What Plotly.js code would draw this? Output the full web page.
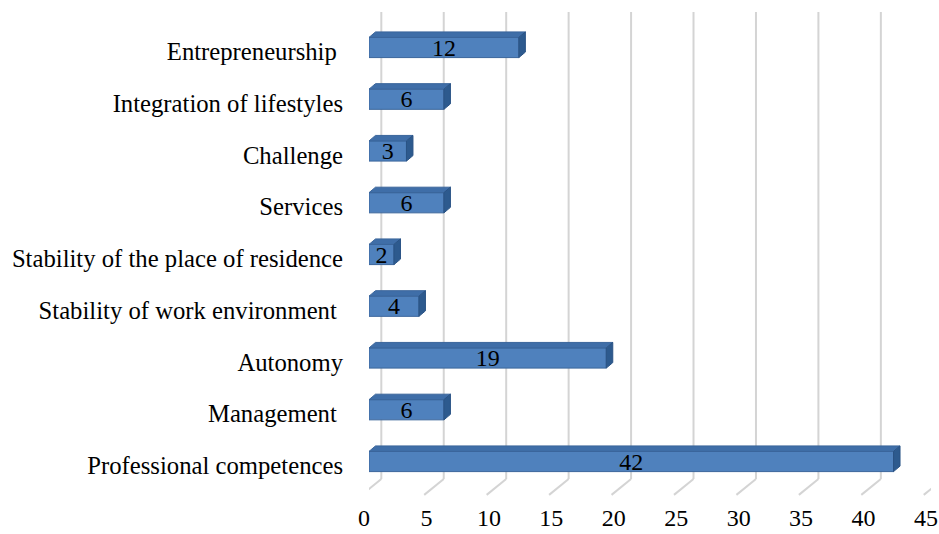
<!DOCTYPE html>
<html>
<head>
<meta charset="utf-8">
<script src="https://cdn.plot.ly/plotly-3.0.1.min.js"></script>
<style>html,body{margin:0;padding:0;background:#fff;}#chart{width:939px;height:534px;}</style>
</head>
<body>
<div id="chart"></div>
<script>
// Categories from bottom to top
const categories = [
  "Professional competences",
  "Management\u00a0",
  "Autonomy",
  "Stability of work environment\u00a0",
  "Stability of the place of residence",
  "Services",
  "Challenge",
  "Integration of lifestyles",
  "Entrepreneurship\u00a0"
];
const values = [42, 6, 19, 4, 2, 6, 3, 6, 12];
const xTicks = [0, 5, 10, 15, 20, 25, 30, 35, 40, 45];

// 3D look parameters (in data units)
const barH = 0.39;      // front face thickness (category units)
const dX = 0.52;        // depth offset along value axis
const dY = 0.106;       // depth offset along category axis
const backShift = 0.985; // back wall offset for gridlines
const floorShift = -0.58; // front floor edge offset

const idx = categories.map((c, i) => i);

// top and side faces
const topX = [], topY = [], sideX = [], sideY = [];
values.forEach((v, i) => {
  const yt = i + barH / 2, yb = i - barH / 2;
  topX.push(0, v, v + dX, dX, 0, null);
  topY.push(yt, yt, yt + dY, yt + dY, yt, null);
  sideX.push(v, v + dX, v + dX, v, v, null);
  sideY.push(yb, yb + dY, yt + dY, yt, yb, null);
});

const frontColor = "#4F81BD";
const edgeColor = "#3A659B";

const traces = [
  {
    type: "bar", orientation: "h", y: idx, x: values, width: barH,
    marker: {color: frontColor, line: {color: edgeColor, width: 1}},
    hoverinfo: "skip", textposition: "none"
  },
  {
    type: "scatter", mode: "lines", x: topX, y: topY, fill: "toself",
    fillcolor: "#3F6EA8", line: {color: edgeColor, width: 1}, hoverinfo: "skip"
  },
  {
    type: "scatter", mode: "lines", x: sideX, y: sideY, fill: "toself",
    fillcolor: "#2D5A8E", line: {color: "#2A5385", width: 1}, hoverinfo: "skip"
  },
  {
    type: "scatter", mode: "text", x: values.map(v => v / 2), y: idx.map(i => i - 0.04),
    text: values.map(String), textposition: "middle center",
    textfont: {family: "Liberation Serif, Times New Roman, serif", size: 24, color: "#000"},
    hoverinfo: "skip"
  }
];

const shapes = [];
xTicks.forEach(t => {
  shapes.push({type: "line", xref: "x", yref: "paper", x0: t + backShift, x1: t + backShift, y0: 0, y1: 1,
    line: {color: "#D4D4D4", width: 2}, layer: "below"});
  shapes.push({type: "line", xref: "x", yref: "paper", x0: t + backShift, x1: t + floorShift, y0: 0, y1: -0.034,
    line: {color: "#D4D4D4", width: 2}, layer: "below"});
});

const font = {family: "Liberation Serif, Times New Roman, serif", size: 24, color: "#000"};
const yfont = {family: "Liberation Serif, Times New Roman, serif", size: 24.7, color: "#000"};

const layout = {
  width: 939, height: 534,
  margin: {l: 369, r: 8, t: 12, b: 55},
  paper_bgcolor: "#fff", plot_bgcolor: "#fff",
  showlegend: false,
  font: font,
  xaxis: {
    range: [0, 45], tickvals: xTicks, ticktext: xTicks.map(String),
    showgrid: false, zeroline: false, showline: false, ticks: "",
    ticklabelshift: -5, ticklabelstandoff: 22, tickfont: font, fixedrange: true
  },
  yaxis: {
    range: [-0.338, 8.686], tickvals: idx, ticktext: categories,
    showgrid: false, zeroline: false, showline: false, ticks: "",
    ticklabelstandoff: 25, ticklabelshift: 4, tickfont: yfont, fixedrange: true
  },
  shapes: shapes
};

Plotly.newPlot("chart", traces, layout, {displayModeBar: false, staticPlot: true});
</script>
</body>
</html>
